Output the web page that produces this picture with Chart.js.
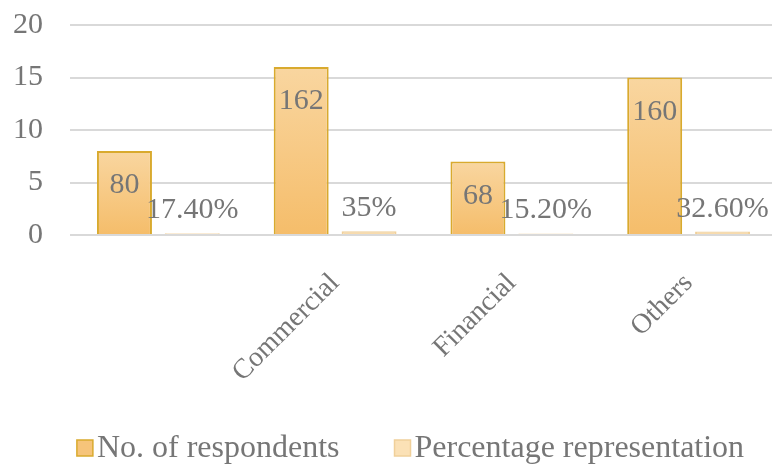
<!DOCTYPE html>
<html>
<head>
<meta charset="utf-8">
<script src="https://cdn.jsdelivr.net/npm/chart.js@4.4.0/dist/chart.umd.min.js"></script>
<style>
  html, body { margin: 0; padding: 0; background: #fff; overflow: hidden; }
  #wrap { width: 772px; height: 464px; overflow: hidden; }
</style>
</head>
<body>
<div id="wrap"><canvas id="chart" width="820" height="464"></canvas></div>
<script>
const categories = ['', 'Commercial', 'Financial', 'Others'];
const respondents = [8, 16, 7, 15];
const respondentLabels = ['80', '162', '68', '160'];
const percentages = [0.174, 0.35, 0.152, 0.326];
const percentLabels = ['17.40%', '35%', '15.20%', '32.60%'];
const yMax = 20;
const yStep = 5;

const textGray = '#767676';
const serif = "'Liberation Serif', 'Times New Roman', serif";

// orange fill, lighter at the top of each bar
function barGradient(ctx) {
  const chart = ctx.chart;
  if (ctx.type !== 'data' || !chart.chartArea) return '#f7c77f';
  const y = chart.scales.y;
  const top = y.getPixelForValue(ctx.parsed.y);
  const bottom = y.getPixelForValue(0);
  if (bottom - top < 1) return '#f7c77f';
  const g = chart.ctx.createLinearGradient(0, top, 0, bottom);
  g.addColorStop(0, '#f9d6a0');
  g.addColorStop(1, '#f5bd6a');
  return g;
}

const barLabels = {
  id: 'barLabels',
  afterDatasetsDraw(chart) {
    const c = chart.ctx;
    c.save();
    c.font = '30px ' + serif;
    c.fillStyle = textGray;
    c.textAlign = 'center';
    c.textBaseline = 'alphabetic';
    chart.getDatasetMeta(0).data.forEach((bar, i) => {
      c.fillText(respondentLabels[i], bar.x, bar.y + 42);
    });
    chart.getDatasetMeta(1).data.forEach((bar, i) => {
      c.fillText(percentLabels[i], bar.x, bar.y - 15);
    });
    c.restore();
  }
};

// legend drawn by hand so the swatch sits tight against its text
const bottomLegend = {
  id: 'bottomLegend',
  afterDraw(chart) {
    const c = chart.ctx;
    const sets = chart.data.datasets;
    const box = 16, gapText = 4, gapItem = 55;
    c.save();
    c.font = '32px ' + serif;
    const widths = sets.map(d => c.measureText(d.label).width);
    let total = 0;
    widths.forEach((w, i) => { total += box + gapText + w + (i ? gapItem : 0); });
    const center = (chart.chartArea.left + chart.chartArea.right) / 2 - 13;
    let x = center - total / 2;
    const cy = chart.height - 16;
    sets.forEach((d, i) => {
      c.fillStyle = d.legendFill;
      c.fillRect(x, cy - box / 2, box, box);
      c.strokeStyle = d.borderColor;
      c.lineWidth = 1.5;
      c.strokeRect(x, cy - box / 2, box, box);
      x += box + gapText;
      c.fillStyle = textGray;
      c.textBaseline = 'middle';
      c.fillText(d.label, x, cy + 1);
      x += widths[i] + gapItem;
    });
    c.restore();
  }
};

new Chart(document.getElementById('chart'), {
  type: 'bar',
  data: {
    labels: categories,
    datasets: [
      {
        label: 'No. of respondents',
        data: respondents,
        backgroundColor: barGradient,
        legendFill: '#f6c47a',
        borderColor: '#d9aa2e',
        borderWidth: 2,
        categoryPercentage: 0.768,
        barPercentage: 0.81
      },
      {
        label: 'Percentage representation',
        data: percentages,
        backgroundColor: '#f8dbad',
        legendFill: '#fbe1b6',
        borderColor: '#f0d09a',
        borderWidth: 2,
        categoryPercentage: 0.768,
        barPercentage: 0.81
      }
    ]
  },
  options: {
    responsive: false,
    animation: false,
    layout: { padding: { left: 12, right: 43, top: 25, bottom: 80 } },
    plugins: {
      legend: { display: false },
      tooltip: { enabled: false }
    },
    scales: {
      x: {
        grid: { display: false },
        border: { display: false },
        ticks: {
          color: textGray,
          font: { family: serif, size: 28 },
          minRotation: 45,
          maxRotation: 45,
          padding: 24
        },
        afterFit(scale) { scale.height = 149; }
      },
      y: {
        min: 0,
        max: yMax,
        grid: { color: '#d9d9d9', lineWidth: 2, drawTicks: false },
        border: { display: false },
        ticks: {
          stepSize: yStep,
          color: textGray,
          font: { family: serif, size: 30 },
          padding: 27
        },
        // fixed box width; no extra room above the top tick
        afterFit(scale) {
          scale.width = 58;
          scale.paddingTop = 0;
          scale.paddingBottom = 0;
        }
      }
    }
  },
  plugins: [barLabels, bottomLegend]
});
</script>
</body>
</html>
